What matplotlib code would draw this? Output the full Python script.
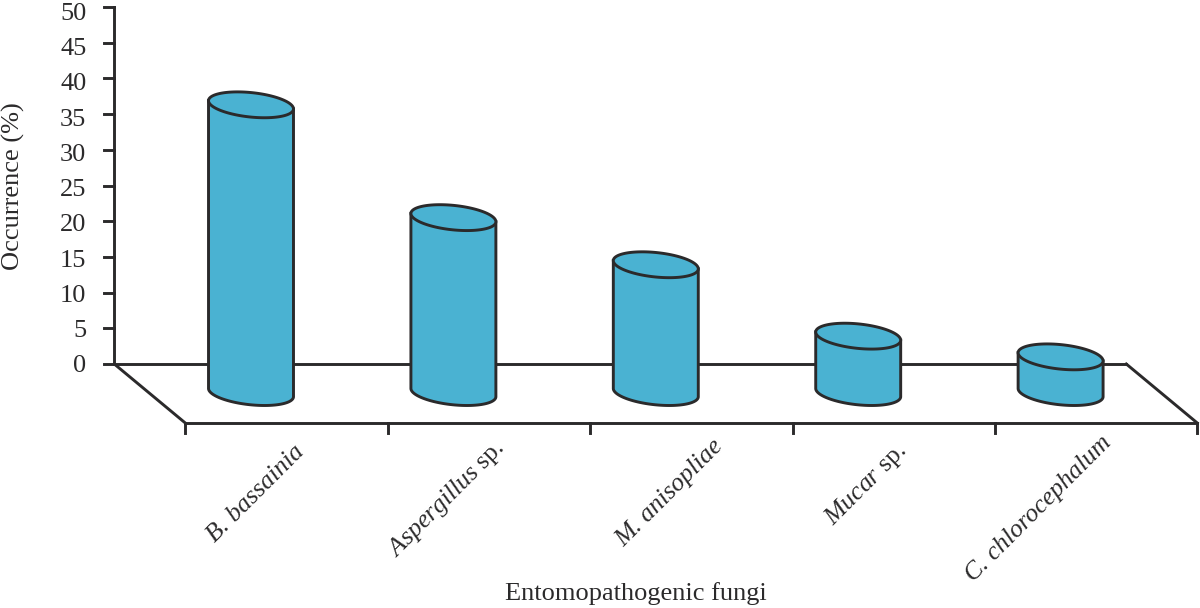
import numpy as np
import matplotlib
matplotlib.use('Agg')
import matplotlib.pyplot as plt

categories = ['B. bassainia', r'$\mathit{Aspergillus}\ \mathrm{sp.}$', 'M. anisopliae', r'$\mathit{Mucar}\ \mathrm{sp.}$', 'C. chlorocephalum']
occurrence = [36.3, 20.5, 13.9, 3.9, 1.0]
y_ticks = [0, 5, 10, 15, 20, 25, 30, 35, 40, 45, 50]

# small nudges of the rotated names, in pixels
label_dx = [-3, -5, 11, -8, -5]
label_dy = [2, 7, 8, 3, 12]

INK = '#2b2a2b'
FILL = '#4ab2d2'
LW = 2.1
FS = 19

PX_X = 202.4   # pixels per category
PX_Y = 7.14    # pixels per percent

plt.rcParams['font.family'] = ['Liberation Serif', 'DejaVu Serif']
plt.rcParams['mathtext.fontset'] = 'custom'
plt.rcParams['mathtext.rm'] = 'Liberation Serif'
plt.rcParams['mathtext.it'] = 'Liberation Serif:italic'

fig = plt.figure(figsize=(12, 6.08), dpi=100)
ax = fig.add_axes([0, 0, 1, 1])
ax.set_xlim(-251 / PX_X, (1200 - 251) / PX_X)
ax.set_ylim(-(608 - 364) / PX_Y, 364 / PX_Y)
ax.axis('off')

depth_x = 35.5 / PX_X
floor_drop = 59 / PX_Y
n = len(categories)
edges = np.arange(n + 1) - 0.5


def cylinder(center, value, base=-4.0, a=42.7, b=12.2, tilt=-6.0):
    # ellipse worked out in pixels then converted to axis units
    rot = np.deg2rad(tilt)
    t = np.linspace(0, 2 * np.pi, 200)
    ex = a * np.cos(t) * np.cos(rot) - b * np.sin(t) * np.sin(rot)
    ey = a * np.cos(t) * np.sin(rot) + b * np.sin(t) * np.cos(rot)
    il, ir = np.argmin(ex), np.argmax(ex)
    ex, ey = ex / PX_X, ey / PX_Y

    # lower half of the ellipse, left to right
    idx = np.roll(np.arange(200), -il)
    stop = list(idx).index(ir) + 1
    low = idx[:stop]

    body_x = np.r_[center + ex[low], center + ex[low][::-1]]
    body_y = np.r_[base + ey[low], value + ey[low][::-1]]
    ax.fill(body_x, body_y, color=FILL, zorder=3)
    # side, bottom arc, side as one line
    line_x = np.r_[center + ex[il], center + ex[low], center + ex[ir]]
    line_y = np.r_[value + ey[il], base + ey[low], value + ey[ir]]
    ax.plot(line_x, line_y, color=INK, lw=LW, zorder=4, solid_joinstyle='round')
    ax.fill(center + ex, value + ey, facecolor=FILL, edgecolor=INK, lw=LW, zorder=5)


# floor and walls
ax.plot([edges[0] - depth_x, edges[-1] - depth_x], [0, 0], color=INK, lw=LW, zorder=1)
ax.plot([edges[0] - depth_x, edges[0] + depth_x], [0, -floor_drop], color=INK, lw=LW, zorder=1)
ax.plot([edges[-1] - depth_x, edges[-1] + depth_x], [0, -floor_drop], color=INK, lw=LW, zorder=1)
ax.plot([edges[0] + depth_x, edges[-1] + depth_x], [-floor_drop, -floor_drop], color=INK, lw=LW, zorder=1)
ax.plot([edges[0] - depth_x, edges[0] - depth_x], [0, y_ticks[-1]], color=INK, lw=LW, zorder=1)

tick_len_y = 10 / PX_X
for v in y_ticks:
    ax.plot([edges[0] - depth_x - tick_len_y, edges[0] - depth_x], [v, v], color=INK, lw=LW, zorder=1)
    ax.text(edges[0] - depth_x - 28 / PX_X, v * 0.988, str(v), ha='right', va='center_baseline',
            fontsize=FS, color=INK)

for e in edges:
    ax.plot([e + depth_x] * 2, [-floor_drop, -floor_drop - 10 / PX_Y], color=INK, lw=LW, zorder=1)

for i, (name, v) in enumerate(zip(categories, occurrence)):
    cylinder(i, v)
    ax.text(i + 0.26 + label_dx[i] / PX_X, -12.2 + label_dy[i] / PX_Y, name, rotation=45, rotation_mode='anchor',
            ha='right', va='center', style='italic', fontsize=18.5, color=INK)

ax.text((636 - 251) / PX_X, -(594 - 364) / PX_Y, 'Entomopathogenic fungi', ha='center', va='center',
        fontsize=FS, color=INK)
ax.text(-(251 - 13) / PX_X, (364 - 186) / PX_Y, 'Occurrence (%)', rotation=90, ha='center', va='center',
        fontsize=FS, color=INK)

fig.savefig('out.png', dpi=100)
